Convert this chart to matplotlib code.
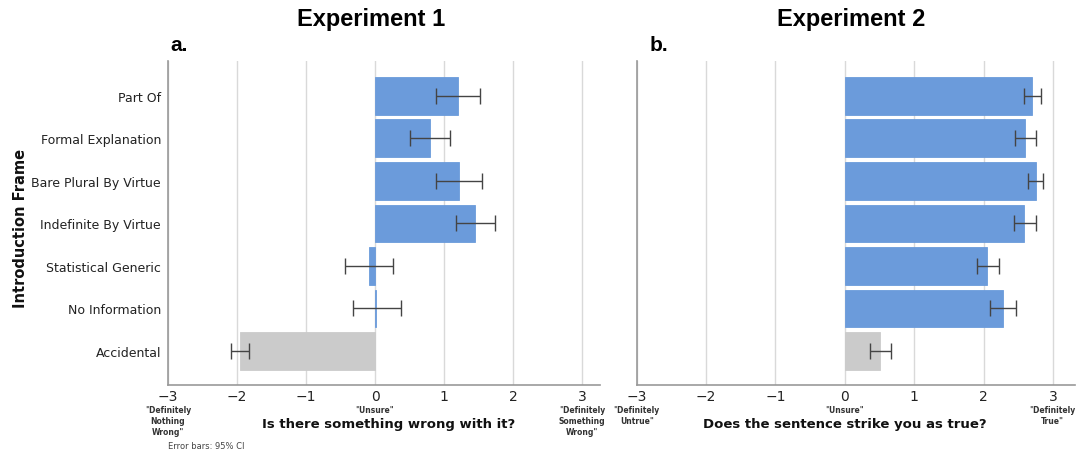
import numpy as np
import matplotlib.pyplot as plt

# Introduction frames, top to bottom
frames = ["Part Of", "Formal Explanation", "Bare Plural By Virtue",
          "Indefinite By Virtue", "Statistical Generic", "No Information",
          "Accidental"]

# Experiment 1: "Is there something wrong with it?"
exp1_mean = [1.21, 0.80, 1.22, 1.45, -0.09, 0.02, -1.95]
exp1_lo = [0.89, 0.51, 0.89, 1.17, -0.43, -0.32, -2.08]
exp1_hi = [1.52, 1.09, 1.55, 1.74, 0.26, 0.37, -1.82]

# Experiment 2: "Does the sentence strike you as true?"
exp2_mean = [2.70, 2.60, 2.75, 2.59, 2.05, 2.28, 0.51]
exp2_lo = [2.59, 2.46, 2.64, 2.44, 1.90, 2.10, 0.36]
exp2_hi = [2.83, 2.75, 2.86, 2.75, 2.22, 2.47, 0.66]

ticks = [-3, -2, -1, 0, 1, 2, 3]
anchors1 = {-3: '"Definitely\nNothing\nWrong"', 0: '"Unsure"',
            3: '"Definitely\nSomething\nWrong"'}
anchors2 = {-3: '"Definitely\nUntrue"', 0: '"Unsure"', 3: '"Definitely\nTrue"'}

BLUE = "#6b9bdb"
GREY = "#cbcbcb"
HEAD = ["Liberation Sans", "DejaVu Sans"]

fig = plt.figure(figsize=(10.81, 4.56), dpi=100)
ax1 = fig.add_axes([0.1554, 0.1535, 0.3996, 0.7105])
ax2 = fig.add_axes([0.589, 0.1535, 0.4055, 0.7105])

ypos = np.arange(len(frames))[::-1]


def draw(ax, means, lo, hi, xmax, anchors, xlabel, label_x):
    colors = [BLUE] * (len(means) - 1) + [GREY]
    means = np.array(means)
    err = np.array([means - np.array(lo), np.array(hi) - means])
    ax.set_axisbelow(True)
    ax.grid(axis="x", color="#d9d9d9", linewidth=1.0)
    ax.barh(ypos, means, height=0.89, color=colors, edgecolor=colors,
            linewidth=0.6)
    ax.errorbar(means, ypos, xerr=err, fmt="none", ecolor="#444444",
                elinewidth=1.0, capsize=6, capthick=1.0)
    ax.set_xlim(-3, xmax)
    ax.set_ylim(-0.8, 6.82)
    ax.set_xticks(ticks)
    ax.set_xticklabels([f"\u2212{abs(t)}" if t < 0 else str(t) for t in ticks],
                       fontsize=10, color="#222222")
    ax.tick_params(axis="x", length=0, pad=3)
    ax.tick_params(axis="y", length=0)
    for s in ["top", "right"]:
        ax.spines[s].set_visible(False)
    for s in ["left", "bottom"]:
        ax.spines[s].set_color("#999999")
        ax.spines[s].set_linewidth(1.2)
    for x, txt in anchors.items():
        ax.text(x, -0.062, txt, transform=ax.get_xaxis_transform(),
                ha="center", va="top", fontsize=5.5, fontweight="bold",
                color="#333333", linespacing=1.25)
    ax.text(label_x, -0.12, xlabel, transform=ax.get_xaxis_transform(),
            ha="center", va="center", fontsize=9.5, fontweight="bold",
            color="#111111")


draw(ax1, exp1_mean, exp1_lo, exp1_hi, 3.26, anchors1,
     "Is there something wrong with it?", 0.2)
draw(ax2, exp2_mean, exp2_lo, exp2_hi, 3.32, anchors2,
     "Does the sentence strike you as true?", 0.0)

ax1.set_yticks(ypos)
ax1.set_yticklabels(frames, fontsize=9, color="#222222")
ax1.tick_params(axis="y", pad=5)
ax2.set_yticks([])

fig.text(0.012, 0.5, "Introduction Frame", rotation=90, ha="left",
         va="center", fontsize=10.5, fontweight="bold", color="#111111")

fig.text(0.343, 0.958, "Experiment 1", ha="center", va="center",
         fontsize=17, fontweight="bold", family=HEAD)
fig.text(0.787, 0.958, "Experiment 2", ha="center", va="center",
         fontsize=17, fontweight="bold", family=HEAD)
fig.text(0.158, 0.9, "a.", ha="left", va="center", fontsize=15,
         fontweight="bold", family=HEAD)
fig.text(0.601, 0.9, "b.", ha="left", va="center", fontsize=15,
         fontweight="bold", family=HEAD)
fig.text(0.155, 0.02, "Error bars: 95% CI", ha="left", va="center",
         fontsize=6, color="#444444")

fig.savefig("out.png", dpi=100)
